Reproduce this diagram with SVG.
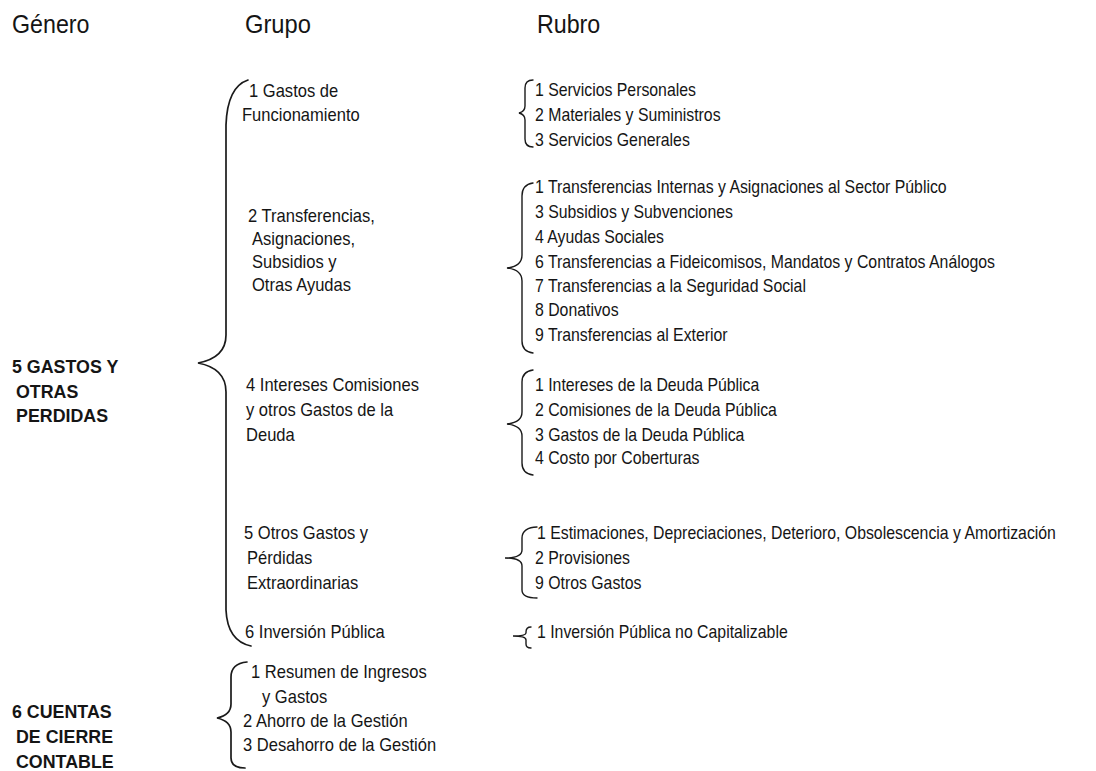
<svg xmlns="http://www.w3.org/2000/svg" width="1096" height="771" viewBox="0 0 1096 771">
<style>
text{font-family:"Liberation Sans",Arial,sans-serif;fill:#151515}
.h{font-size:25px}
.g{font-size:18px;font-weight:bold}
.t{font-size:18px}
.r{font-size:18px}
.br{fill:none;stroke:#1a1a1a;stroke-width:1.4;stroke-linecap:round}
.bb{fill:none;stroke:#1a1a1a;stroke-width:1.7;stroke-linecap:round}
</style>
<rect width="1096" height="771" fill="#fff"/>
<g id="headers">
<text class="h" transform="translate(12,33) scale(0.93,1)">Género</text>
<text class="h" transform="translate(245,33) scale(0.95,1)">Grupo</text>
<text class="h" transform="translate(537,33) scale(0.93,1)">Rubro</text>
</g>
<g id="connectors">
<path class="bb" d="M248,80 C236,84 227,96 226,125 L226,335 C226,352 214,360 198,363 C214,366 226,374 226,392 L226,610 C227,632 237,643 251,646"/>
<path class="bb" d="M247,662 C237,663 231,668 231,677 L231,704 C231,712 226,716 217,718 C226,720 231,724 231,732 L231,758 C231,765 236,768 245,768"/>
<path class="br" d="M533,80 C528,80 525,83 525,88 L525,106 C525,110 523,112 519,113 C523,114 525,116 525,120 L525,139 C525,144 528,147 533,147"/>
<path class="br" d="M533,183 C526,184 522,188 522,196 L522,255 C522,263 516,267 507,268 C516,269 522,273 522,281 L522,341 C522,348 526,352 533,353"/>
<path class="br" d="M533,370 C526,371 522,375 522,382 L522,412 C522,419 516,423 507,424 C516,425 522,429 522,436 L522,463 C522,470 526,474 533,475"/>
<path class="br" d="M537,527 C528,527 522,531 522,538 L522,550 C522,555 518,558 505,558 C518,558 522,561 522,566 L522,590 C522,596 527,598 537,598"/>
<path class="br" d="M531,627 C528,627 526,629 526,632 L526,633 C526,635 522,636 513,636 C522,636 526,637 526,640 L526,644 C526,647 528,648 531,648"/>
</g>
<g id="genero-5">
<text class="g" transform="translate(12,373) scale(0.99,1)">5 GASTOS Y</text>
<text class="g" transform="translate(16,398) scale(0.99,1)">OTRAS</text>
<text class="g" transform="translate(16,422) scale(0.99,1)">PERDIDAS</text>
</g>
<g id="genero-6">
<text class="g" transform="translate(12,718) scale(0.99,1)">6 CUENTAS</text>
<text class="g" transform="translate(16,743) scale(0.99,1)">DE CIERRE</text>
<text class="g" transform="translate(16,768) scale(0.99,1)">CONTABLE</text>
</g>
<g id="grupo-51">
<text class="t" transform="translate(249,97) scale(0.92,1)">1 Gastos de</text>
<text class="t" transform="translate(242,121) scale(0.92,1)">Funcionamiento</text>
</g>
<g id="grupo-52">
<text class="t" transform="translate(248,222) scale(0.92,1)">2 Transferencias,</text>
<text class="t" transform="translate(252,245) scale(0.92,1)">Asignaciones,</text>
<text class="t" transform="translate(252,268) scale(0.92,1)">Subsidios y</text>
<text class="t" transform="translate(252,291) scale(0.92,1)">Otras Ayudas</text>
</g>
<g id="grupo-54">
<text class="t" transform="translate(246,391) scale(0.92,1)">4 Intereses Comisiones</text>
<text class="t" transform="translate(246,416) scale(0.92,1)">y otros Gastos de la</text>
<text class="t" transform="translate(246,441) scale(0.92,1)">Deuda</text>
</g>
<g id="grupo-55">
<text class="t" transform="translate(244,539) scale(0.92,1)">5 Otros Gastos y</text>
<text class="t" transform="translate(247,564) scale(0.92,1)">Pérdidas</text>
<text class="t" transform="translate(247,589) scale(0.92,1)">Extraordinarias</text>
</g>
<g id="grupo-56">
<text class="t" transform="translate(245,638) scale(0.92,1)">6 Inversión Pública</text>
</g>
<g id="grupo-6">
<text class="t" transform="translate(251,678) scale(0.92,1)">1 Resumen de Ingresos</text>
<text class="t" transform="translate(262,703) scale(0.92,1)">y Gastos</text>
<text class="t" transform="translate(243,727) scale(0.92,1)">2 Ahorro de la Gestión</text>
<text class="t" transform="translate(243,751) scale(0.92,1)">3 Desahorro de la Gestión</text>
</g>
<g id="rubro-51">
<text class="r" transform="translate(535,96) scale(0.88,1)">1 Servicios Personales</text>
<text class="r" transform="translate(535,121) scale(0.88,1)">2 Materiales y Suministros</text>
<text class="r" transform="translate(535,146) scale(0.88,1)">3 Servicios Generales</text>
</g>
<g id="rubro-52">
<text class="r" transform="translate(535,193) scale(0.88,1)">1 Transferencias Internas y Asignaciones al Sector Público</text>
<text class="r" transform="translate(535,218) scale(0.88,1)">3 Subsidios y Subvenciones</text>
<text class="r" transform="translate(535,243) scale(0.88,1)">4 Ayudas Sociales</text>
<text class="r" transform="translate(535,268) scale(0.88,1)">6 Transferencias a Fideicomisos, Mandatos y Contratos Análogos</text>
<text class="r" transform="translate(535,292) scale(0.88,1)">7 Transferencias a la Seguridad Social</text>
<text class="r" transform="translate(535,316) scale(0.88,1)">8 Donativos</text>
<text class="r" transform="translate(535,341) scale(0.88,1)">9 Transferencias al Exterior</text>
</g>
<g id="rubro-54">
<text class="r" transform="translate(535,391) scale(0.88,1)">1 Intereses de la Deuda Pública</text>
<text class="r" transform="translate(535,416) scale(0.88,1)">2 Comisiones de la Deuda Pública</text>
<text class="r" transform="translate(535,441) scale(0.88,1)">3 Gastos de la Deuda Pública</text>
<text class="r" transform="translate(535,464) scale(0.88,1)">4 Costo por Coberturas</text>
</g>
<g id="rubro-55">
<text class="r" transform="translate(537,539) scale(0.88,1)">1 Estimaciones, Depreciaciones, Deterioro, Obsolescencia y Amortización</text>
<text class="r" transform="translate(535,564) scale(0.88,1)">2 Provisiones</text>
<text class="r" transform="translate(535,589) scale(0.88,1)">9 Otros Gastos</text>
</g>
<g id="rubro-56">
<text class="r" transform="translate(537,638) scale(0.88,1)">1 Inversión Pública no Capitalizable</text>
</g>
</svg>
